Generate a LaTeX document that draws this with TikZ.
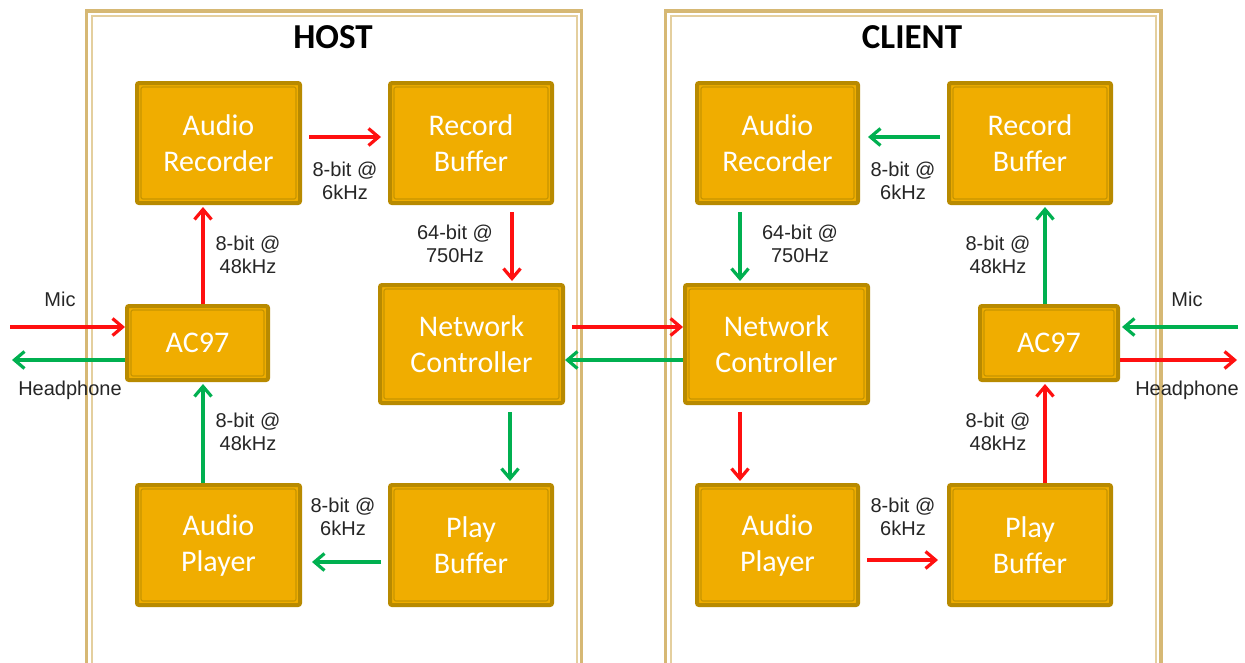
\documentclass[tikz,border=0pt]{standalone}
\usepackage{fontspec}
\setmainfont{Liberation Sans}
\newfontfamily\boxfont{Carlito}
\usetikzlibrary{arrows.meta}
\definecolor{panelouter}{HTML}{D6B874}
\definecolor{panelinner}{HTML}{E4CF9E}
\definecolor{boxfill}{HTML}{F0AD00}
\definecolor{boxdark}{HTML}{B88A00}
\definecolor{boxinner}{HTML}{C89500}
\definecolor{arrred}{HTML}{FF1010}
\definecolor{arrgreen}{HTML}{00B050}
\tikzset{
  blockbox/.style={rectangle, rounded corners=2pt, fill=boxfill, draw=boxdark, line width=4pt,
    text=white, align=center, inner sep=0pt,
    font=\boxfont\fontsize{30}{36}\selectfont,
    path picture={\draw[boxinner, line width=1.2pt]
      ([shift={(4pt,4pt)}]path picture bounding box.south west) rectangle
      ([shift={(-4pt,-4pt)}]path picture bounding box.north east);}},
  biglbl/.style={font=\boxfont\bfseries\fontsize{35}{40}\selectfont, text=black},
  ratelbl/.style={font=\fontsize{20}{23}\selectfont, align=center, text=black!85, inner sep=0pt},
  conn/.style={line width=3.6pt, -{Straight Barb[length=10pt,width=17pt,line width=3.2pt]}},
  redarr/.style={conn, draw=arrred},
  greenarr/.style={conn, draw=arrgreen},
}
\begin{document}
\begin{tikzpicture}[x=1pt,y=-1pt]
\useasboundingbox (0,0) rectangle (1245,662);
\clip (0,0) rectangle (1245,662);
\fill[white] (0,0) rectangle (1245,662);
% panels
\draw[panelouter, line width=3.5pt] (86.5,11) rectangle (581.5,700);
\draw[panelinner, line width=2pt] (91.5,15.5) rectangle (576.5,700);
\draw[panelouter, line width=3.5pt] (665.5,11) rectangle (1161,700);
\draw[panelinner, line width=2pt] (670.5,15.5) rectangle (1156,700);
\node[biglbl] (htitle) at (333,37) {HOST};
\node[biglbl] (ctitle) at (912,37) {CLIENT};
% host blocks
\node[blockbox, minimum width=163pt, minimum height=120pt] (har) at (218.5,143) {Audio\\Recorder};
\node[blockbox, minimum width=162pt, minimum height=120pt] (hrb) at (471,143) {Record\\Buffer};
\node[blockbox, minimum width=141pt, minimum height=74pt] (hac) at (197.5,343) {AC97};
\node[blockbox, minimum width=183pt, minimum height=118pt] (hnc) at (471.5,344) {Network\\Controller};
\node[blockbox, minimum width=163pt, minimum height=120pt] (hap) at (218.5,545) {Audio\\Player};
\node[blockbox, minimum width=162pt, minimum height=120pt] (hpb) at (471,545) {Play\\Buffer};
% client blocks
\node[blockbox, minimum width=161pt, minimum height=120pt] (car) at (777.5,143) {Audio\\Recorder};
\node[blockbox, minimum width=162pt, minimum height=120pt] (crb) at (1030,143) {Record\\Buffer};
\node[blockbox, minimum width=183pt, minimum height=118pt] (cnc) at (776.5,344) {Network\\Controller};
\node[blockbox, minimum width=138pt, minimum height=74pt] (cac) at (1049,343) {AC97};
\node[blockbox, minimum width=161pt, minimum height=120pt] (cap) at (777.5,545) {Audio\\Player};
\node[blockbox, minimum width=162pt, minimum height=120pt] (cpb) at (1030,545) {Play\\Buffer};
% free ends
\coordinate (hmic) at (10,327);
\coordinate (hhp) at (12,360);
\coordinate (cmic) at (1238,327);
\coordinate (chp) at (1237,360);
% host connectors
\draw[redarr, shorten <=7pt, shorten >=7pt] ([yshift=6pt]har.east) -- ([yshift=6pt]hrb.west);
\draw[redarr, shorten <=7pt, shorten >=2pt] ([xshift=41pt]hrb.south) -- ([xshift=41pt]hrb.south |- hnc.north);
\draw[redarr, shorten >=2pt] ([xshift=5.5pt]hac.north) -- ([xshift=5.5pt]hac.north |- har.south);
\draw[redarr] (hmic) -- (hmic -| hac.west);
\draw[greenarr] (hhp -| hac.west) -- (hhp);
\draw[greenarr, shorten >=2pt] ([xshift=-15.5pt]hap.north) -- ([xshift=-15.5pt]hap.north |- hac.south);
\draw[greenarr, shorten <=7pt, shorten >=2pt] ([xshift=38.5pt]hnc.south) -- ([xshift=38.5pt]hnc.south |- hpb.north);
\draw[greenarr, shorten <=7pt, shorten >=10pt] ([yshift=-17pt]hpb.west) -- ([yshift=-17pt]hap.east);
% between controllers
\draw[redarr, shorten <=7pt] ([yshift=17pt]hnc.east) -- ([yshift=17pt]hnc.east -| cnc.west);
\draw[greenarr] ([yshift=-16pt]cnc.west) -- ([yshift=-16pt]cnc.west -| hnc.east);
% client connectors
\draw[greenarr, shorten <=7pt, shorten >=8pt] ([yshift=6pt]crb.west) -- ([yshift=6pt]car.east);
\draw[greenarr, shorten <=7pt, shorten >=2pt] ([xshift=-37.5pt]car.south) -- ([xshift=-37.5pt]car.south |- cnc.north);
\draw[greenarr, shorten >=2pt] ([xshift=-4pt]cac.north) -- ([xshift=-4pt]cac.north |- crb.south);
\draw[greenarr, shorten >=2pt] (cmic) -- (cmic -| cac.east);
\draw[redarr] (chp -| cac.east) -- (chp);
\draw[redarr, shorten <=7pt, shorten >=2pt] ([xshift=-36.5pt]cnc.south) -- ([xshift=-36.5pt]cnc.south |- cap.north);
\draw[redarr, shorten <=7pt, shorten >=9pt] ([yshift=-15pt]cap.east) -- ([yshift=-15pt]cpb.west);
\draw[redarr, shorten >=2pt] ([xshift=15pt]cpb.north) -- ([xshift=15pt]cpb.north |- cac.south);
% labels
\node[ratelbl] (l1) at (345,181) {8-bit @\\6kHz};
\node[ratelbl] (l2) at (455,244) {64-bit @\\750Hz};
\node[ratelbl] (l3) at (248,255) {8-bit @\\48kHz};
\node[ratelbl] (l4) at (248,432) {8-bit @\\48kHz};
\node[ratelbl] (l5) at (343,517) {8-bit @\\6kHz};
\node[ratelbl] (l6) at (903,181) {8-bit @\\6kHz};
\node[ratelbl] (l7) at (800,244) {64-bit @\\750Hz};
\node[ratelbl] (l8) at (998,255) {8-bit @\\48kHz};
\node[ratelbl] (l9) at (998,432) {8-bit @\\48kHz};
\node[ratelbl] (l10) at (903,517) {8-bit @\\6kHz};
\node[ratelbl] (hmicl) at (60,299) {Mic};
\node[ratelbl] (hhpl) at (70,390) {Headphone};
\node[ratelbl] (cmicl) at (1187,299) {Mic};
\node[ratelbl] (chpl) at (1187,390) {Headphone};
\end{tikzpicture}
\end{document}
